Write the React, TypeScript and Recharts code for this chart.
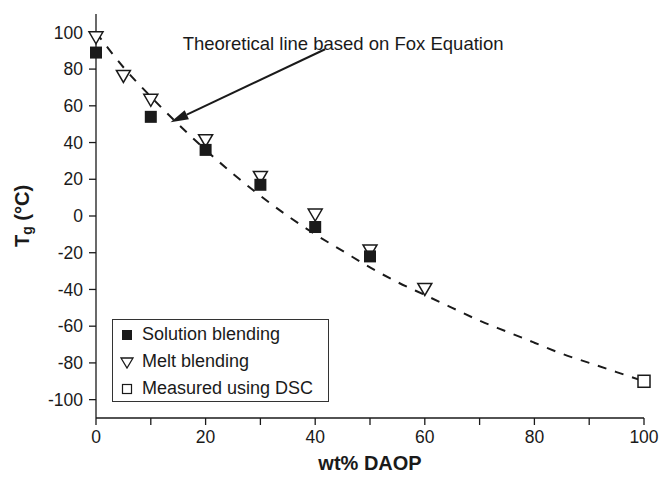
import React from "react";
import {
  ComposedChart,
  Line,
  Scatter,
  XAxis,
  YAxis,
  ReferenceLine,
  Label,
} from "recharts";

// readings from the figure
const solutionBlending = [
  { x: 0, y: 89 },
  { x: 10, y: 54 },
  { x: 20, y: 36 },
  { x: 30, y: 17 },
  { x: 40, y: -6 },
  { x: 50, y: -22 },
];

const meltBlending = [
  { x: 0, y: 97 },
  { x: 5, y: 76 },
  { x: 10, y: 63 },
  { x: 20, y: 41 },
  { x: 30, y: 21 },
  { x: 40, y: 0.5 },
  { x: 50, y: -19 },
  { x: 60, y: -40 },
];

const measuredDSC = [{ x: 100, y: -90 }];

const foxLineX = [0, 5, 10, 15, 20, 25, 30, 35, 40, 45, 50, 55, 60, 65, 70, 75, 80, 85, 90, 95, 100];
const foxLineY = [100, 81, 65, 50, 36, 23, 11, 0, -10, -19, -28, -36, -43, -50, -57, -63, -69, -75, -80, -85, -90];
const foxLine = foxLineX.map((x, i) => ({ x, y: foxLineY[i] }));

const xTicks = [0, 10, 20, 30, 40, 50, 60, 70, 80, 90, 100];
const yTicks = [-100, -80, -60, -40, -20, 0, 20, 40, 60, 80, 100];

const annotationText = "Theoretical line based on Fox Equation";
const arrowFrom = { x: 41.8, y: 90.8 };
const arrowTo = { x: 13.6, y: 51 };

const FONT = "'Liberation Sans', Arial, sans-serif";
const INK = "#1a1a1a";

const FilledSquare = (props: any) => {
  const { cx, cy } = props;
  if (cx == null || cy == null) return null;
  return <rect x={cx - 6} y={cy - 6} width={12} height={12} fill={INK} />;
};

const OpenTriangle = (props: any) => {
  const { cx, cy } = props;
  if (cx == null || cy == null) return null;
  return (
    <polygon
      points={`${cx - 7},${cy - 6} ${cx + 7},${cy - 6} ${cx},${cy + 6}`}
      fill="#fff"
      stroke={INK}
      strokeWidth={1.5}
    />
  );
};

const OpenSquare = (props: any) => {
  const { cx, cy } = props;
  if (cx == null || cy == null) return null;
  return (
    <rect x={cx - 6} y={cy - 6} width={12} height={12} fill="#fff" stroke={INK} strokeWidth={1.5} />
  );
};

const ArrowShape = (props: any) => {
  const { x1, y1, x2, y2 } = props;
  if (x1 == null) return null;
  const ang = Math.atan2(y2 - y1, x2 - x1);
  const len = 18;
  const half = 5;
  const bx = x2 - len * Math.cos(ang);
  const by = y2 - len * Math.sin(ang);
  const px = -Math.sin(ang) * half;
  const py = Math.cos(ang) * half;
  return (
    <g>
      <line x1={x1} y1={y1} x2={bx} y2={by} stroke={INK} strokeWidth={2} />
      <polygon points={`${x2},${y2} ${bx + px},${by + py} ${bx - px},${by - py}`} fill={INK} />
      <text x={x1 + 18} y={y1 + 1} textAnchor="middle" fontFamily={FONT} fontSize={18.5} fill={INK}>
        {annotationText}
      </text>
    </g>
  );
};

const legendItems = [
  { label: "Solution blending", icon: "filled" },
  { label: "Melt blending", icon: "triangle" },
  { label: "Measured using DSC", icon: "open" },
];

const LegendBox = () => (
  <div
    style={{
      position: "absolute",
      left: 112,
      top: 319,
      border: "1.5px solid #333",
      background: "#fff",
      width: 217,
      height: 83,
      boxSizing: "border-box",
      padding: "1px 0 0 7px",
      fontFamily: FONT,
      fontSize: 18,
      color: INK,
    }}
  >
    {legendItems.map((it) => (
      <div key={it.label} style={{ display: "flex", alignItems: "center", height: 27 }}>
        <svg width={14} height={14} style={{ marginRight: 8 }}>
          {it.icon === "filled" && <rect x={2} y={2} width={10} height={10} fill={INK} />}
          {it.icon === "triangle" && (
            <polygon points="1,3 13,3 7,13" fill="#fff" stroke={INK} strokeWidth={1.3} />
          )}
          {it.icon === "open" && (
            <rect x={2.5} y={2.5} width={9} height={9} fill="#fff" stroke={INK} strokeWidth={1.2} />
          )}
        </svg>
        <span>{it.label}</span>
      </div>
    ))}
  </div>
);

const YLabel = (props: any) => {
  const { viewBox } = props;
  const cx = 22;
  const cy = viewBox.y + viewBox.height / 2;
  return (
    <text
      transform={`translate(${cx},${cy}) rotate(-90)`}
      textAnchor="middle"
      dominantBaseline="central"
      fontFamily={FONT}
      fontWeight="bold"
      fontSize={20}
      fill={INK}
    >
      T<tspan fontSize={14} dy={5}>g</tspan>
      <tspan dy={-5}> (°C)</tspan>
    </text>
  );
};

const XLabel = (props: any) => {
  const { viewBox } = props;
  return (
    <text
      x={viewBox.x + viewBox.width / 2}
      y={470}
      textAnchor="middle"
      fontFamily={FONT}
      fontWeight="bold"
      fontSize={20}
      fill={INK}
    >
      wt% DAOP
    </text>
  );
};

const tickStyle = { fontFamily: FONT, fontSize: 17.5, fill: INK };

export default function App() {
  return (
    <div style={{ position: "absolute", left: 0, top: 0, width: 659, height: 479, background: "#fff" }}>
      <ComposedChart
        width={659}
        height={479}
        margin={{ top: 14, right: 15, bottom: 0, left: 0 }}
      >
        <XAxis
          dataKey="x"
          type="number"
          domain={[0, 100]}
          ticks={xTicks}
          tickFormatter={(v: number) => (v % 20 === 0 ? String(v) : "")}
          tick={tickStyle}
          tickSize={7}
          tickMargin={6}
          height={61}
          stroke={INK}
          strokeWidth={1.3}
        >
          <Label content={<XLabel />} />
        </XAxis>
        <YAxis
          dataKey="y"
          type="number"
          domain={[-110, 110]}
          ticks={yTicks}
          tick={tickStyle}
          tickSize={7}
          tickMargin={6}
          width={96}
          stroke={INK}
          strokeWidth={1.3}
        >
          <Label content={<YLabel />} />
        </YAxis>
        <Line
          data={foxLine}
          dataKey="y"
          type="monotone"
          stroke={INK}
          strokeWidth={2}
          strokeDasharray="9 9"
          dot={false}
          isAnimationActive={false}
          legendType="none"
        />
        <ReferenceLine
          segment={[arrowFrom, arrowTo]}
          shape={<ArrowShape />}
          ifOverflow="visible"
        />
        <Scatter
          name="Melt blending"
          data={meltBlending}
          shape={<OpenTriangle />}
          isAnimationActive={false}
        />
        <Scatter
          name="Solution blending"
          data={solutionBlending}
          shape={<FilledSquare />}
          isAnimationActive={false}
        />
        <Scatter
          name="Measured using DSC"
          data={measuredDSC}
          shape={<OpenSquare />}
          isAnimationActive={false}
        />
      </ComposedChart>
      <LegendBox />
    </div>
  );
}
